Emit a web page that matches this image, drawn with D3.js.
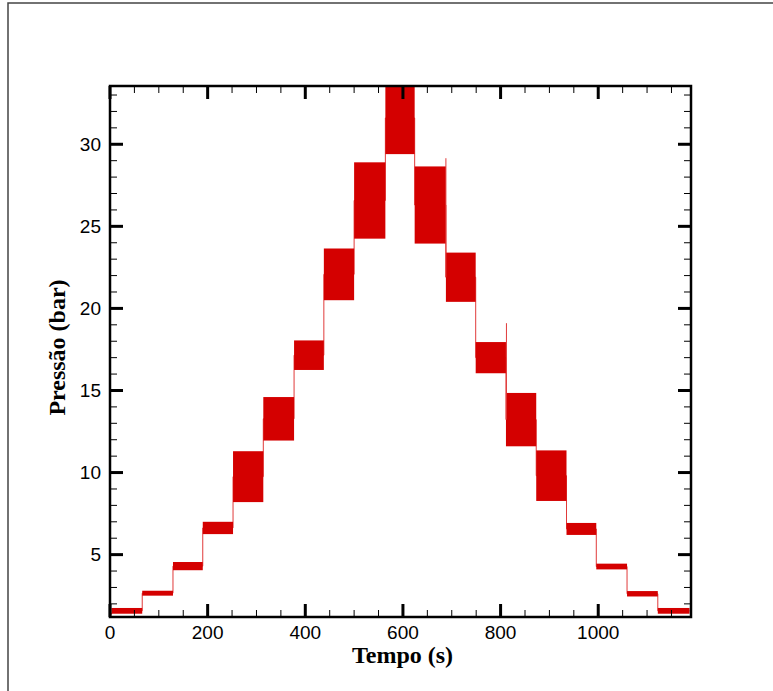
<!DOCTYPE html>
<html>
<head>
<meta charset="utf-8">
<script src="https://cdn.jsdelivr.net/npm/d3@7/dist/d3.min.js"></script>
<style>
  body { margin: 0; background: #fff; }
  svg { display: block; }
</style>
</head>
<body>
<div id="chart"></div>
<script>
// step pressure test: each step is a time window with the band the signal oscillates in
const stepStart = [0, 66, 129, 190, 252, 314, 377, 438, 500, 564, 624, 688, 749, 811, 873, 935, 996, 1059, 1122]
const stepEnd = [66, 129, 190, 252, 314, 377, 438, 500, 564, 624, 688, 749, 811, 873, 935, 996, 1059, 1122, 1187]
const stepLow = [1.4, 2.5, 4.05, 6.25, 8.2, 11.95, 16.25, 20.5, 24.25, 29.4, 23.95, 20.4, 16.05, 11.6, 8.27, 6.2, 4.1, 2.45, 1.4]
const stepHigh = [1.75, 2.8, 4.55, 7.0, 11.3, 14.6, 18.05, 23.65, 28.9, 33.8, 28.65, 23.4, 17.95, 14.85, 11.35, 6.93, 4.45, 2.78, 1.75]

// short spikes seen at a few step changes
const spikeTime = [688, 812]
const spikeValue = [29.15, 19.1]

// start-up ramp before the first plateau
const rampTime = [0, 2, 5]
const rampValue = [1.2, 1.35, 1.5]

const xTicks = [0, 200, 400, 600, 800, 1000]
const yTicks = [5, 10, 15, 20, 25, 30]

const W = 773
const H = 691
const margin = { top: 86, left: 110, right: 82, bottom: 74 }
const width = W - margin.left - margin.right
const height = H - margin.top - margin.bottom

const root = d3
  .select('#chart')
  .append('svg')
  .attr('width', W)
  .attr('height', H)

// outer frame of the figure
root
  .append('rect')
  .attr('x', 8)
  .attr('y', 3)
  .attr('width', W)
  .attr('height', H)
  .attr('fill', 'none')
  .attr('stroke', '#444')
  .attr('stroke-width', 1.5)

const svg = root
  .append('g')
  .attr('transform', 'translate(' + margin.left + ',' + margin.top + ')')

const xPositionScale = d3
  .scaleLinear()
  .domain([0, 1190])
  .range([0, width])

const yPositionScale = d3
  .scaleLinear()
  .domain([1.2, 33.55])
  .range([height, 0])

svg
  .append('clipPath')
  .attr('id', 'plot-clip')
  .append('rect')
  .attr('width', width)
  .attr('height', height)

const steps = stepStart.map((s, i) => ({
  start: s,
  end: stepEnd[i],
  low: stepLow[i],
  high: stepHigh[i]
}))

const plot = svg.append('g').attr('clip-path', 'url(#plot-clip)')

const red = '#d40000'

// transitions between steps
const linePoints = rampTime.map((t, i) => [t, rampValue[i]])
steps.forEach(d => {
  const mid = (d.low + d.high) / 2
  linePoints.push([Math.max(d.start, 5), mid])
  linePoints.push([d.end, mid])
})

const line = d3
  .line()
  .x(d => xPositionScale(d[0]))
  .y(d => yPositionScale(d[1]))

plot
  .append('path')
  .datum(linePoints)
  .attr('d', line)
  .attr('fill', 'none')
  .attr('stroke', '#e03a3a')
  .attr('stroke-width', 1)

plot
  .selectAll('.band')
  .data(steps)
  .enter()
  .append('rect')
  .attr('class', 'band')
  .attr('x', d => xPositionScale(Math.max(d.start, 3)))
  .attr('width', d => xPositionScale(d.end) - xPositionScale(Math.max(d.start, 3)))
  .attr('y', d => yPositionScale(d.high))
  .attr('height', d => yPositionScale(d.low) - yPositionScale(d.high))
  .attr('fill', red)

plot
  .selectAll('.spike')
  .data(spikeTime)
  .enter()
  .append('line')
  .attr('class', 'spike')
  .attr('x1', d => xPositionScale(d))
  .attr('x2', d => xPositionScale(d))
  .attr('y1', (d, i) => yPositionScale(spikeValue[i]))
  .attr('y2', (d, i) => {
    const s = steps.find(st => st.start >= d - 1)
    return yPositionScale((s.low + s.high) / 2)
  })
  .attr('stroke', '#e03a3a')
  .attr('stroke-width', 1)

// axes: ticks pointing inwards on all four sides
const xMinor = d3.range(0, 1191, 50)
const yMinor = d3.range(2, 34, 1)

function drawTicks(g, values, scale, orient, len, sw) {
  g.selectAll(null)
    .data(values)
    .enter()
    .append('line')
    .attr('x1', d => (orient === 'bottom' || orient === 'top' ? scale(d) : orient === 'left' ? 0 : width))
    .attr('x2', d => (orient === 'bottom' || orient === 'top' ? scale(d) : orient === 'left' ? len : width - len))
    .attr('y1', d => (orient === 'left' || orient === 'right' ? scale(d) : orient === 'bottom' ? height : 0))
    .attr('y2', d => (orient === 'left' || orient === 'right' ? scale(d) : orient === 'bottom' ? height - len : len))
    .attr('stroke', '#000')
    .attr('stroke-width', sw)
}

const ticks = svg.append('g').attr('class', 'ticks')
drawTicks(ticks, xMinor, xPositionScale, 'bottom', 7, 1)
drawTicks(ticks, xMinor, xPositionScale, 'top', 7, 1)
drawTicks(ticks, yMinor, yPositionScale, 'left', 7, 1)
drawTicks(ticks, yMinor, yPositionScale, 'right', 7, 1)
drawTicks(ticks, xTicks, xPositionScale, 'bottom', 13, 3)
drawTicks(ticks, xTicks, xPositionScale, 'top', 13, 3)
drawTicks(ticks, yTicks, yPositionScale, 'left', 13, 3)
drawTicks(ticks, yTicks, yPositionScale, 'right', 13, 3)

svg
  .append('rect')
  .attr('width', width)
  .attr('height', height)
  .attr('fill', 'none')
  .attr('stroke', '#000')
  .attr('stroke-width', 2.5)

svg
  .selectAll('.x-label')
  .data(xTicks)
  .enter()
  .append('text')
  .attr('class', 'x-label')
  .attr('x', d => xPositionScale(d))
  .attr('y', height + 22)
  .attr('text-anchor', 'middle')
  .attr('font-family', 'Liberation Sans, Arial, sans-serif')
  .attr('font-size', 19)
  .text(d => d)

svg
  .selectAll('.y-label')
  .data(yTicks)
  .enter()
  .append('text')
  .attr('class', 'y-label')
  .attr('x', -9)
  .attr('y', d => yPositionScale(d))
  .attr('dy', '0.36em')
  .attr('text-anchor', 'end')
  .attr('font-family', 'Liberation Sans, Arial, sans-serif')
  .attr('font-size', 19)
  .text(d => d)

svg
  .append('text')
  .attr('x', width / 2 + 2)
  .attr('y', height + 46)
  .attr('text-anchor', 'middle')
  .attr('font-family', 'Liberation Serif, Times New Roman, serif')
  .attr('font-weight', 700)
  .attr('font-size', 24)
  .text('Tempo (s)')

svg
  .append('text')
  .attr('transform', 'translate(' + -45 + ',' + (height / 2 - 4) + ') rotate(-90)')
  .attr('text-anchor', 'middle')
  .attr('font-family', 'Liberation Serif, Times New Roman, serif')
  .attr('font-weight', 700)
  .attr('font-size', 24)
  .text('Pressão (bar)')
</script>
</body>
</html>
